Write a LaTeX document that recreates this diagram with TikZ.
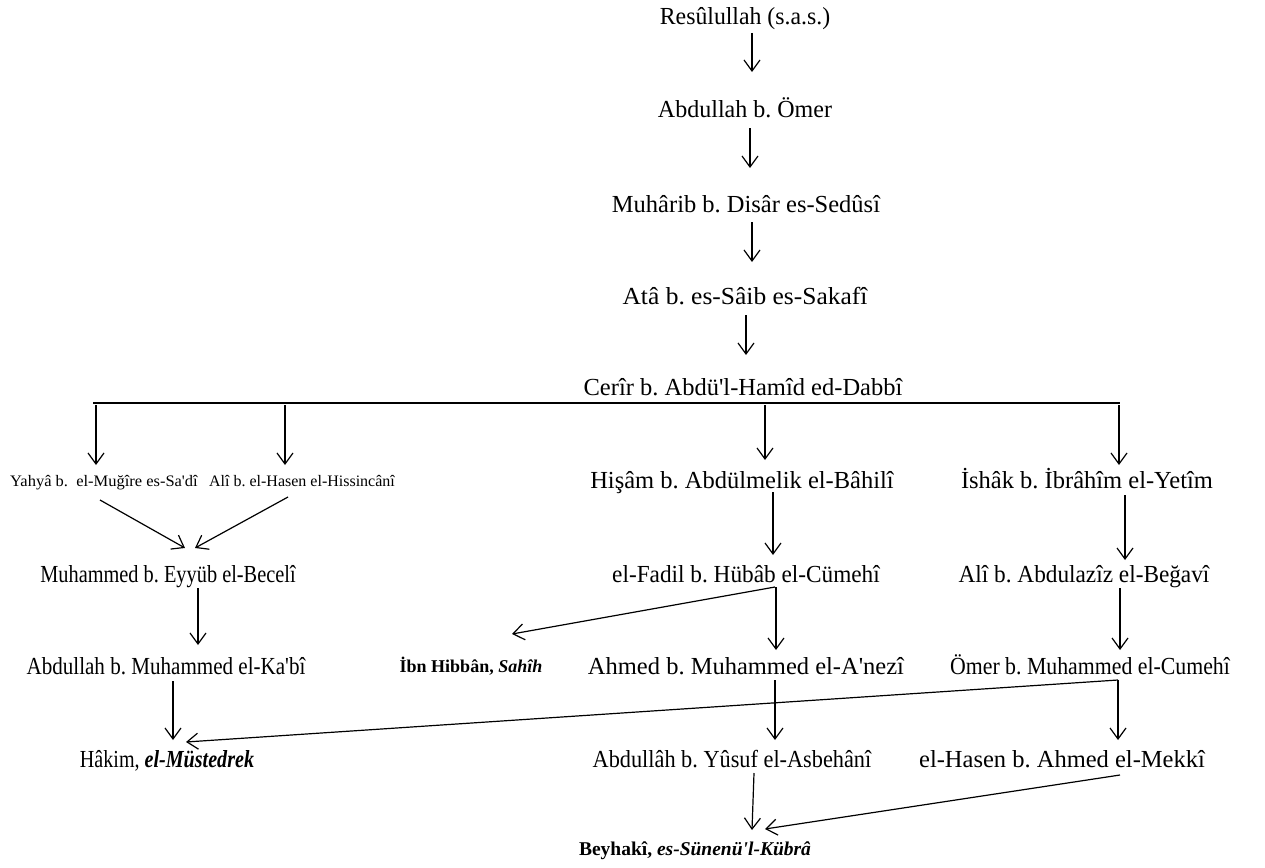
\documentclass[tikz,border=0pt]{standalone}
\usepackage{fontspec}
\usepackage{graphicx}
\setmainfont{Liberation Serif}
\usetikzlibrary{arrows.meta}
\newcommand{\q}{\textquotesingle}
\newcommand{\sx}[2]{\scalebox{#1}[1]{#2}}
\begin{document}
\frenchspacing
\begin{tikzpicture}[x=1pt,y=-1pt,
  nm/.style={inner sep=0pt, text height=17pt, text depth=5pt, font=\fontsize{24.5}{28}\selectfont\frenchspacing},
  sm/.style={inner sep=0pt, text height=12pt, text depth=3pt, font=\fontsize{16}{19}\selectfont\frenchspacing},
  bd/.style={inner sep=0pt, text height=13pt, text depth=4pt, font=\fontsize{18}{21}\selectfont\bfseries\frenchspacing},
  arr/.style={line width=1.2pt, -{Straight Barb[length=11pt,width=16pt,line width=1.2pt]}},
  bar/.style={line width=1.5pt}]
\useasboundingbox (0,0) rectangle (1265,867);
% nodes
\node[nm] (res) at (745,19) {\sx{0.97}{Resûlullah (s.a.s.)}};
\node[nm] (abd) at (745,111) {\sx{0.98}{Abdullah b. Ömer}};
\node[nm] (muh) at (746,206) {Muhârib b. Disâr es-Sedûsî};
\node[nm] (ata) at (745,298) {\sx{1.04}{Atâ b. es-Sâib es-Sakafî}};
\node[nm] (cer) at (743,389) {Cerîr b. Abdü\q l-Hamîd ed-Dabbî};
\coordinate (barL) at (93,403);
\coordinate (barR) at (1120,403);
\node[sm] (yah) at (104,482) {\sx{1.03}{Yahyâ b.\ \ el-Muğîre es-Sa\q dî}};
\node[sm] (ali) at (302,482) {Alî b. el-Hasen el-Hissincânî};
\node[nm] (his) at (742,482) {Hişâm b. Abdülmelik el-Bâhilî};
\node[nm] (ish) at (1087,482) {İshâk b. İbrâhîm el-Yetîm};
\node[nm] (mey) at (168,576) {\sx{0.83}{Muhammed b. Eyyüb el-Becelî}};
\node[nm] (fad) at (746,576) {\sx{0.95}{el-Fadil b. Hübâb el-Cümehî}};
\node[nm] (alb) at (1084,576) {\sx{0.95}{Alî b. Abdulazîz el-Beğavî}};
\node[nm] (akb) at (166,668) {\sx{0.86}{Abdullah b. Muhammed el-Ka\q bî}};
\node[bd] (ibn) at (471,668) {İbn Hibbân, \textit{Sahîh}};
\node[nm] (ahm) at (746,668) {Ahmed b. Muhammed el-A\q nezî};
\node[nm] (omr) at (1090,668) {\sx{0.89}{Ömer b. Muhammed el-Cumehî}};
\node[nm] (hak) at (167,761) {\sx{0.82}{Hâkim, \textbf{\textit{el-Müstedrek}}}};
\node[nm] (ays) at (732,761) {\sx{0.91}{Abdullâh b. Yûsuf el-Asbehânî}};
\node[nm] (has) at (1062,761) {el-Hasen b. Ahmed el-Mekkî};
\node[inner sep=0pt, text height=14pt, text depth=5pt, font=\fontsize{19.5}{23}\selectfont\bfseries] (bey) at (695,851) {Beyhakî, \textit{es-Sünenü\q l-Kübrâ}};
% connectors
\draw[arr] ([shift={(7,14)}]res.center) -- ([shift={(7,-39)}]abd.center);
\draw[arr] ([shift={(5,17)}]abd.center) -- ([shift={(4,-38)}]muh.center);
\draw[arr] ([shift={(6,16)}]muh.center) -- ([shift={(7,-36)}]ata.center);
\draw[arr] ([shift={(1,17)}]ata.center) -- ([shift={(3,-34)}]cer.center);
\draw[bar] (barL) -- (barR);
\draw[arr] ([shift={(-8,-77)}]yah.center) -- ([shift={(-8,-17)}]yah.center);
\draw[arr] ([shift={(-17,-77)}]ali.center) -- ([shift={(-17,-17)}]ali.center);
\draw[arr] ([shift={(23,-77)}]his.center) -- ([shift={(23,-22)}]his.center);
\draw[arr] ([shift={(32,-77)}]ish.center) -- ([shift={(32,-17)}]ish.center);
\draw[arr] ([shift={(-4,18)}]yah.center) -- ([shift={(17,-28)}]mey.center);
\draw[arr] ([shift={(-14,15)}]ali.center) -- ([shift={(27,-28)}]mey.center);
\draw[arr] ([shift={(31,10)}]his.center) -- ([shift={(27,-21)}]fad.center);
\draw[arr] ([shift={(38,13)}]ish.center) -- ([shift={(41,-16)}]alb.center);
\draw[arr] ([shift={(30,12)}]mey.center) -- ([shift={(32,-23)}]akb.center);
\draw[arr] ([shift={(29,11)}]fad.center) -- ([shift={(41,-34)}]ibn.center);
\draw[arr] ([shift={(30,11)}]fad.center) -- ([shift={(30,-18)}]ahm.center);
\draw[arr] ([shift={(36,12)}]alb.center) -- ([shift={(30,-18)}]omr.center);
\draw[arr] ([shift={(7,13)}]akb.center) -- ([shift={(6,-21)}]hak.center);
\draw[arr] ([shift={(28,12)}]omr.center) -- ([shift={(19,-19)}]hak.center);
\draw[arr] ([shift={(28,12)}]omr.center) -- ([shift={(56,-21)}]has.center);
\draw[arr] ([shift={(29,12)}]ahm.center) -- ([shift={(43,-21)}]ays.center);
\draw[arr] ([shift={(22,12)}]ays.center) -- ([shift={(57,-21)}]bey.center);
\draw[arr] ([shift={(58,14)}]has.center) -- ([shift={(70,-22)}]bey.center);
\end{tikzpicture}
\end{document}
